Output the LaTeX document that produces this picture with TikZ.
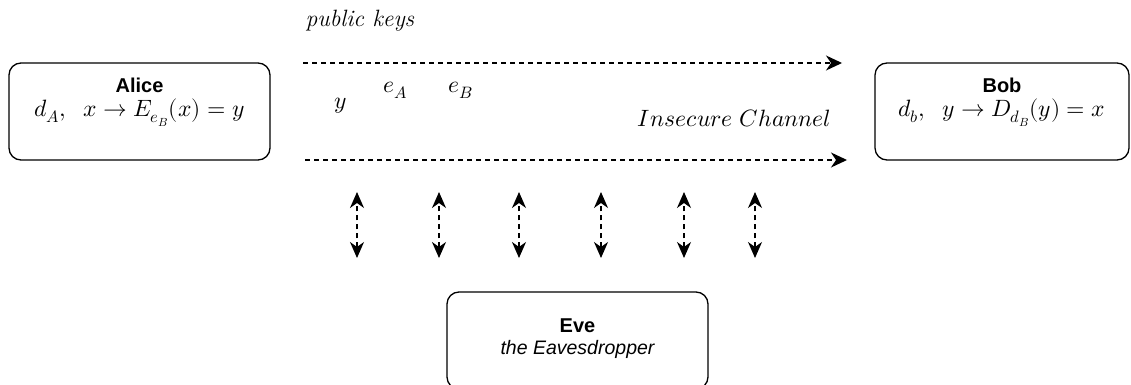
\documentclass[tikz,border=0pt]{standalone}
\usepackage{fontspec}
\usepackage{unicode-math}
\setsansfont{Liberation Sans}
\usetikzlibrary{arrows.meta}

\begin{document}
\begin{tikzpicture}[x=1pt, y=-1pt,
  party/.style={draw, rounded corners=12pt, line width=1.3pt,
    minimum width=261pt, minimum height=97pt},
  who/.style={anchor=base, inner sep=0pt, font=\sffamily\bfseries\fontsize{20}{23}\selectfont},
  role/.style={anchor=base, inner sep=0pt, font=\sffamily\itshape\fontsize{19.5}{23}\selectfont},
  formula/.style={anchor=base, inner sep=0pt, font=\fontsize{23.6}{28}\selectfont},
  channel/.style={line width=1.3pt, dash pattern=on 5pt off 4pt,
    -{Stealth[length=16pt, width=15pt, inset=5pt]}},
  tap/.style={line width=1.3pt, dash pattern=on 5pt off 4pt,
    {Stealth[length=16pt, width=14pt, inset=5pt]}-{Stealth[length=16pt, width=14pt, inset=5pt]}}]
\useasboundingbox (0,0) rectangle (1131,385);

% the three parties
\node[party] (alice) at (139.5,111.5) {};
\node[party, minimum width=254pt] (bob) at (1002,111.5) {};
\node[party] (eve) at (577.5,340.5) {};

\node[who] (alicename) at ([yshift=18.5pt]alice.center) {Alice};
\node[formula] (alicemath) at ([yshift=-5.5pt]alice.center) {$d_A,\;\; x \to E_{e_B}(x) = y$};
\node[who] (bobname) at ([yshift=18.5pt]bob.center) {Bob};
\node[formula] (bobmath) at ([yshift=-5.5pt]bob.center) {$d_b,\;\; y \to D_{d_B}(y) = x$};
\node[who] (evename) at ([yshift=8.5pt]eve.center) {Eve};
\node[role] (everole) at ([yshift=-13.5pt]eve.center) {the Eavesdropper};

% channel
\coordinate (keysstart) at (303,63);
\coordinate (keysend) at (842,63);
\coordinate (chanstart) at (305,160);
\coordinate (chanend) at (847,160);
\draw[channel] (keysstart) -- (keysend);
\draw[channel] (chanstart) -- (chanend);

\node[formula] (keys) at (360,27) {\textit{public keys}};
\node[formula] (msg) at (340.5,109) {$y$};
\node[formula, anchor=base west] (keya) at (383,93) {$e_A$};
\node[formula, anchor=base west] (keyb) at (448,93) {$e_B$};
\node[formula] (insecure) at (734.5,127) {$Insecure\ Channel$};

% eavesdropping taps
\foreach \x [count=\i] in {357,439,519,601,684,755} {
  \coordinate (tapt\i) at (\x,192);
  \coordinate (tapb\i) at (\x,258);
  \draw[tap] (tapb\i) -- (tapt\i);
}
\end{tikzpicture}
\end{document}
